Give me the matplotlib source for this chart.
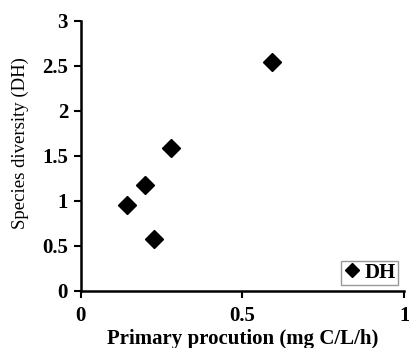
import matplotlib.pyplot as plt

# data
primary_production = [0.144, 0.199, 0.228, 0.279, 0.591]
species_diversity = [0.95, 1.176, 0.574, 1.59, 2.545]

x_ticks = [0, 0.5, 1]
x_tick_labels = ['0', '0.5', '1']
y_ticks = [0, 0.5, 1, 1.5, 2, 2.5, 3]
y_tick_labels = ['0', '0.5', '1', '1.5', '2', '2.5', '3']

plt.rcParams['font.family'] = ['Liberation Serif', 'DejaVu Serif']
plt.rcParams['font.weight'] = 'bold'

fig = plt.figure(figsize=(4.09, 3.48), dpi=100)
ax = fig.add_axes([0.197, 0.164, 0.791, 0.777])

ax.plot(primary_production, species_diversity, linestyle='none', marker='D',
        markersize=9.5, color='black', label='DH')

ax.set_xlim(0, 1)
ax.set_ylim(0, 3)
ax.set_xticks(x_ticks)
ax.set_xticklabels(x_tick_labels, fontweight='bold')
ax.set_yticks(y_ticks)
ax.set_yticklabels(y_tick_labels, fontweight='bold')

for side in ['top', 'right']:
    ax.spines[side].set_visible(False)
for side in ['left', 'bottom']:
    ax.spines[side].set_linewidth(1.8)

ax.tick_params(direction='out', length=5, width=1.5, labelsize=15)
ax.tick_params(axis='x', pad=6)
ax.tick_params(axis='y', pad=4)
ax.set_xlabel('Primary procution (mg C/L/h)', fontsize=15, fontweight='bold',
              labelpad=2)
ax.set_ylabel('Species diversity (DH)', fontsize=13.5, fontweight='normal')
ax.yaxis.set_label_coords(-0.158, 0.546)

leg = ax.legend(loc='lower right', frameon=True, fancybox=False,
                prop={'size': 15, 'weight': 'bold'}, markerscale=0.8,
                handletextpad=0.15, borderpad=0.1, handlelength=0.9,
                borderaxespad=0.3)
leg.get_frame().set_edgecolor('#808080')
leg.get_frame().set_linewidth(1.0)

fig.savefig('out.png', dpi=100)
